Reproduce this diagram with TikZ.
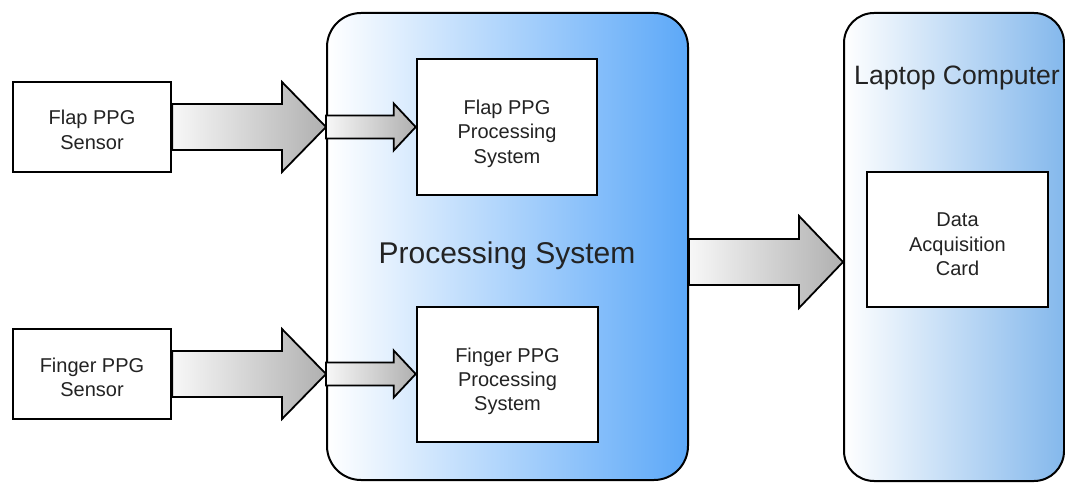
\documentclass[tikz,border=0pt]{standalone}
\usepackage{fontspec}
\setmainfont{Liberation Sans}
\usetikzlibrary{calc, positioning}

\definecolor{psblue}{RGB}{92,168,248}
\definecolor{lapblue}{RGB}{132,184,236}
\definecolor{txtgray}{RGB}{35,35,35}

\tikzset{
  unit/.style={draw, line width=1.3pt, fill=white, align=center, inner sep=0pt,
    text=txtgray, font=\fontsize{10}{12.2}\selectfont},
  system/.style={draw, line width=1pt, rounded corners=17pt, left color=white, right color=#1},
  arrowbody/.style={draw, line width=0.9pt, line join=miter, left color=gray!6, right color=gray!62},
}

% strut on the first line, pushes the text a bit down
\newcommand{\lift}[1]{\rule{0pt}{#1}}

% block arrow: tail, tip, body half height, head half height, head length
\newcommand{\blockarrow}[5]{%
  \draw[arrowbody] ($(#1)+(0,#3)$) -- ($(#2 |- #1)+(-#5,#3)$) -- ($(#2 |- #1)+(-#5,#4)$)
    -- (#2 |- #1) -- ($(#2 |- #1)+(-#5,-#4)$) -- ($(#2 |- #1)+(-#5,-#3)$) -- ($(#1)+(0,-#3)$) -- cycle;}

\begin{document}
\begin{tikzpicture}[x=0.5pt,y=0.5pt]
  \useasboundingbox (0,0) rectangle (1065,482);

  % the two systems
  \node[system=psblue, minimum width=180.5pt, minimum height=233.5pt] (ps) at (507.5,235.5) {};
  \node[system=lapblue, minimum width=110pt, minimum height=234pt, rounded corners=15pt] (laptop) at (954,235) {};
  \node[text=txtgray, font=\fontsize{15}{18}\selectfont] (pslabel) at (507,226) {Processing System};
  \node[text=txtgray, font=\fontsize{13.3}{16}\selectfont] (laplabel) at (957,404) {Laptop Computer};

  % sensors
  \node[unit, minimum width=79pt, minimum height=45pt] (flapsens) at (92,355) {\lift{10.3pt}Flap PPG\\Sensor};
  \node[unit, minimum width=79pt, minimum height=45pt] (fingsens) at (92,108) {\lift{10.3pt}Finger PPG\\Sensor};

  % processing units
  \node[unit, minimum width=90pt, minimum height=68pt] (flapproc) at (507,355) {\lift{14pt}Flap PPG\\Processing\\System};
  \node[unit, minimum width=90.5pt, minimum height=67.5pt] (fingproc) at (507.5,107.5) {\lift{14pt}Finger PPG\\Processing\\System};
  \node[unit, minimum width=90.5pt, minimum height=67.5pt] (daq) at (957.5,242.5) {\lift{11.7pt}Data\\Acquisition\\Card};

  \coordinate (flapin) at (ps.west |- flapsens.east);
  \coordinate (fingin) at (ps.west |- fingsens.east);
  \coordinate (psout) at ($(ps.east)+(0,-15.5)$);

  % arrows
  \blockarrow{flapsens.east}{ps.west}{23}{45}{44}
  \blockarrow{fingsens.east}{ps.west}{23}{45}{44}
  \blockarrow{flapin}{flapproc.west}{11.5}{23.5}{22}
  \blockarrow{fingin}{fingproc.west}{11.5}{23.5}{22}
  \blockarrow{psout}{laptop.west}{23}{46}{44}
\end{tikzpicture}
\end{document}
